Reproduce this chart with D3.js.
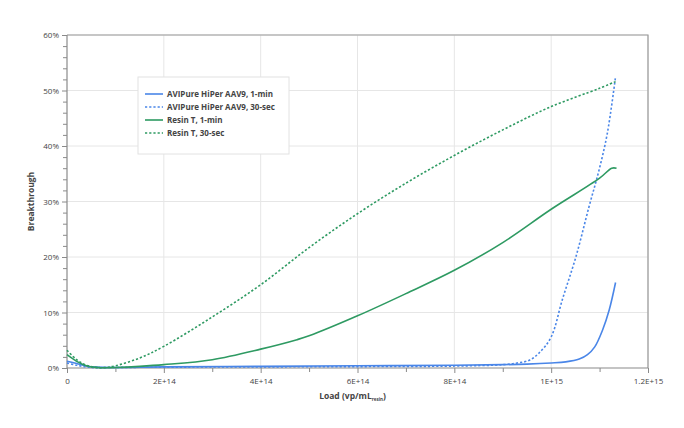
<!DOCTYPE html>
<html>
<head>
<meta charset="utf-8">
<script src="https://cdn.jsdelivr.net/npm/d3@7"></script>
<style>
  body { margin: 0; background: #fff; }
  text { font-family: "Open Sans", sans-serif; fill: #444; }
</style>
</head>
<body>
<svg id="chart" width="684" height="428"></svg>
<script>
// load in vp/mL resin, breakthrough in %
const xTicks = [0, 2e14, 4e14, 6e14, 8e14, 1e15, 1.2e15];
const xTickLabels = ["0", "2E+14", "4E+14", "6E+14", "8E+14", "1E+15", "1.2E+15"];
const yTicks = [0, 10, 20, 30, 40, 50, 60];

const aviPure1min = [
  [0, 1.2], [0.2e14, 0.8], [0.4e14, 0.35], [0.6e14, 0.15], [1e14, 0.1], [2e14, 0.2],
  [4e14, 0.3], [6e14, 0.4], [8e14, 0.5], [9e14, 0.6], [9.5e14, 0.7], [1e15, 0.9],
  [1.03e15, 1.1], [1.058e15, 1.6], [1.075e15, 2.4], [1.09e15, 3.8], [1.106e15, 6.8],
  [1.12e15, 10.5], [1.133e15, 15.4]
];
const aviPure30sec = [
  [0, 0.9], [0.2e14, 0.5], [0.5e14, 0.1], [1e14, 0.1], [2e14, 0.15], [4e14, 0.2],
  [6e14, 0.25], [8e14, 0.35], [9e14, 0.6], [9.3e14, 0.9], [9.55e14, 1.4], [9.75e14, 2.7],
  [1e15, 5.6], [1.023e15, 12.3], [1.051e15, 20], [1.078e15, 29], [1.099e15, 35.7],
  [1.116e15, 42.3], [1.133e15, 52.5]
];
const resinT1min = [
  [0, 2.4], [0.2e14, 1.2], [0.4e14, 0.4], [0.7e14, 0.05], [1e14, 0.1], [1.5e14, 0.3],
  [2e14, 0.6], [3e14, 1.5], [4e14, 3.4], [4.75e14, 5.1], [5e14, 5.8], [6e14, 9.4],
  [7e14, 13.4], [8e14, 17.6], [9e14, 22.6], [1e15, 28.6], [1.1e15, 34.2],
  [1.125e15, 36], [1.135e15, 36]
];
const resinT30sec = [
  [0, 3.2], [0.2e14, 1.5], [0.4e14, 0.5], [0.6e14, 0.1], [0.8e14, 0.1], [1e14, 0.4],
  [1.5e14, 1.8], [2e14, 3.9], [3e14, 9.2], [4e14, 15], [5e14, 21.7], [6e14, 27.8],
  [7e14, 33.3], [8e14, 38.3], [9e14, 42.9], [1e15, 47.1], [1.1e15, 50.4], [1.133e15, 51.6]
];

const seriesNames = ["AVIPure HiPer AAV9, 1-min", "AVIPure HiPer AAV9, 30-sec", "Resin T, 1-min", "Resin T, 30-sec"];
const seriesData = [aviPure1min, aviPure30sec, resinT1min, resinT30sec];
const seriesColors = ["#4a86e8", "#4a86e8", "#2e9a62", "#2e9a62"];
const seriesDashed = [false, true, false, true];

const margin = {top: 35, right: 36, bottom: 60, left: 67};
const width = 684 - margin.left - margin.right;
const height = 428 - margin.top - margin.bottom;

const svg = d3.select("#chart");
const g = svg.append("g").attr("transform", `translate(${margin.left},${margin.top})`);

const x = d3.scaleLinear().domain([0, 1.2e15]).range([0, width]);
const y = d3.scaleLinear().domain([0, 60]).range([height, 0]);

// gridlines
g.selectAll(".hgrid").data(yTicks.slice(1)).join("line")
  .attr("x1", 0).attr("x2", width)
  .attr("y1", d => y(d)).attr("y2", d => y(d))
  .attr("stroke", "#e6e6e6").attr("stroke-width", 1);
g.selectAll(".vgrid").data(xTicks.slice(1)).join("line")
  .attr("y1", 0).attr("y2", height)
  .attr("x1", d => x(d)).attr("x2", d => x(d))
  .attr("stroke", "#e6e6e6").attr("stroke-width", 1);

// frame top/right
g.append("path")
  .attr("d", `M0,0H${width}V${height}`)
  .attr("fill", "none").attr("stroke", "#9a9a9a").attr("stroke-width", 1.2);

// y axis
const yAxis = g.append("g")
  .call(d3.axisLeft(y).tickValues(yTicks).tickFormat(d => d + "%").tickSize(5).tickPadding(3));
yAxis.append("g")
  .call(d3.axisLeft(y).tickValues(d3.range(0, 61, 2).filter(v => v % 10)).tickFormat("").tickSize(4));
yAxis.selectAll("path.domain").remove();

// x axis
const xAxis = g.append("g").attr("transform", `translate(0,${height})`)
  .call(d3.axisBottom(x).tickValues(xTicks).tickFormat((d, i) => xTickLabels[i]).tickSize(5).tickPadding(5));
xAxis.append("g")
  .call(d3.axisBottom(x).tickValues(d3.range(1e14, 1.2e15, 2e14)).tickFormat("").tickSize(4));
xAxis.selectAll("path.domain").remove();

[yAxis, xAxis].forEach(a => {
  a.selectAll("line").attr("stroke", "#8a8a8a");
  a.selectAll("text").attr("font-size", 8).attr("fill", "#555").attr("font-weight", 500);
});

g.append("line").attr("x1", 0).attr("x2", 0).attr("y1", 0).attr("y2", height)
  .attr("stroke", "#8a8a8a").attr("stroke-width", 1.2);
g.append("line").attr("x1", 0).attr("x2", width).attr("y1", height).attr("y2", height)
  .attr("stroke", "#8a8a8a").attr("stroke-width", 1.2);

// series
const line = d3.line().x(d => x(d[0])).y(d => y(Math.max(0, d[1]))).curve(d3.curveCatmullRom.alpha(0.5));
seriesData.forEach((data, i) => {
  g.append("path")
    .datum(data)
    .attr("d", line)
    .attr("fill", "none")
    .attr("stroke", seriesColors[i])
    .attr("stroke-width", 1.6)
    .attr("stroke-dasharray", seriesDashed[i] ? "2.2,2" : null);
});

// legend
const legend = svg.append("g").attr("transform", "translate(138,77)");
legend.append("rect").attr("width", 151).attr("height", 77)
  .attr("fill", "#fff").attr("stroke", "#e2e2e2");
seriesNames.forEach((name, i) => {
  const row = legend.append("g").attr("transform", `translate(0,${17 + i * 13})`);
  row.append("line").attr("x1", 7).attr("x2", 25)
    .attr("stroke", seriesColors[i]).attr("stroke-width", 1.6)
    .attr("stroke-dasharray", seriesDashed[i] ? "2.2,2" : null);
  row.append("text").attr("x", 29).attr("y", 3)
    .attr("font-size", 8).attr("font-weight", 700).attr("fill", "#333")
    .text(name);
});

// axis titles
svg.append("text")
  .attr("transform", `translate(34,${margin.top + height / 2}) rotate(-90)`)
  .attr("text-anchor", "middle").attr("font-size", 8.5).attr("font-weight", 700).attr("fill", "#333")
  .text("Breakthrough");

const xt = svg.append("text")
  .attr("x", margin.left + width / 2 - 5).attr("y", 399)
  .attr("text-anchor", "middle").attr("font-size", 8.5).attr("font-weight", 700).attr("fill", "#333");
xt.append("tspan").text("Load (vp/mL");
xt.append("tspan").attr("font-size", 4.5).attr("dy", 2).text("resin");
xt.append("tspan").attr("dy", -2).text(")");
</script>
</body>
</html>
